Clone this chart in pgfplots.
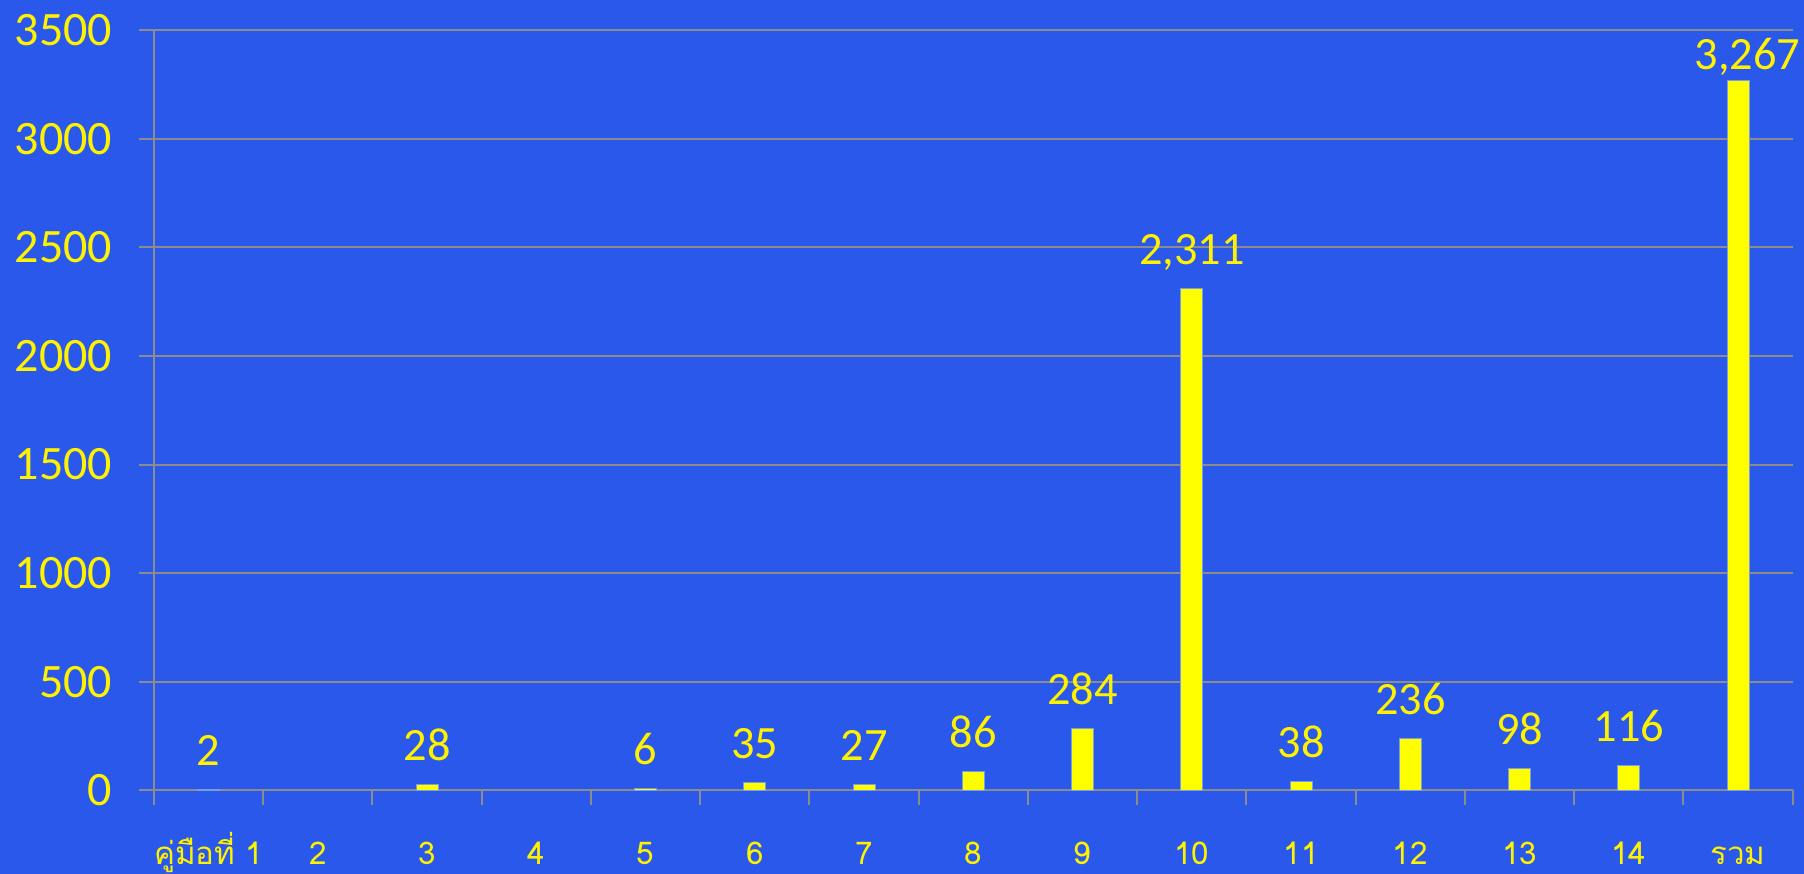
\documentclass[border=0pt]{standalone}
\usepackage{pgfplots}
\pgfplotsset{compat=1.18}
\usepackage{fontspec}
\setmainfont{Carlito}
\newfontfamily\thaifont[Script=Thai]{Loma}
\usetikzlibrary{backgrounds}
\definecolor{bgblue}{RGB}{41,88,234}
\definecolor{gridgray}{RGB}{140,140,140}
\definecolor{baryellow}{RGB}{255,255,0}
\definecolor{baredge}{RGB}{120,160,225}

\begin{document}
\begin{tikzpicture}
\begin{axis}[
    scale only axis,
    width=491.7pt,
    height=228pt,
    xmin=-0.5, xmax=14.5,
    ymin=0, ymax=3500,
    ytick={0,500,...,3500},
    xtick={0,...,14},
    xticklabels={คู่มือที่ 1,2,3,4,5,6,7,8,9,10,11,12,13,14,รวม},
    minor xtick={-0.5,0.5,...,14.5},
    axis x line*=bottom,
    axis y line*=left,
    axis line style={gridgray, line width=0.6pt},
    ymajorgrids,
    grid style={gridgray, line width=0.6pt},
    tick align=outside,
    major tick length=4.5pt,
    minor tick length=4.5pt,
    major x tick style={draw=none},
    minor x tick style={gridgray, line width=0.6pt},
    ytick style={gridgray, line width=0.6pt},
    /pgf/number format/.cd, 1000 sep={,}, assume math mode=true, /pgfplots/.cd,
    yticklabel style={font=\fontsize{14.4}{16}\selectfont, color=yellow, xshift=-4.5pt,
        /pgf/number format/1000 sep={}},
    xticklabel style={font=\thaifont\fontsize{9.4}{11}\selectfont, color=yellow, anchor=base, yshift=-17.7pt},
    ybar, bar width=6.6pt, bar shift=0pt,
    clip=false,
    nodes near coords,
    nodes near coords style={font=\fontsize{13.9}{16}\selectfont, color=yellow, anchor=base, yshift=7.2pt},
]
\coordinate (bl) at (rel axis cs:0,0);
\coordinate (tr) at (rel axis cs:1,1);
\addplot[fill=baryellow, draw=baredge, line width=0.3pt] coordinates {
    (0,2) (2,28) (4,6) (5,35) (6,27) (7,86) (8,284) (9,2311)
    (10,38) (11,236) (12,98) (13,116)};
% the total's label sits closer to its bar, as in the original
\addplot[fill=baryellow, draw=baredge, line width=0.3pt,
    nodes near coords style={yshift=-3.9pt, xshift=2.8pt}] coordinates {(14,3267)};
\end{axis}
\pgfresetboundingbox
\begin{scope}[on background layer]
\fill[bgblue] ([shift={(-46.2pt,-25.1pt)}]bl) rectangle ([shift={(3.4pt,9.1pt)}]tr);
\end{scope}
\path[use as bounding box] ([shift={(-46.2pt,-25.1pt)}]bl) rectangle ([shift={(3.4pt,9.1pt)}]tr);
\end{tikzpicture}
\end{document}
